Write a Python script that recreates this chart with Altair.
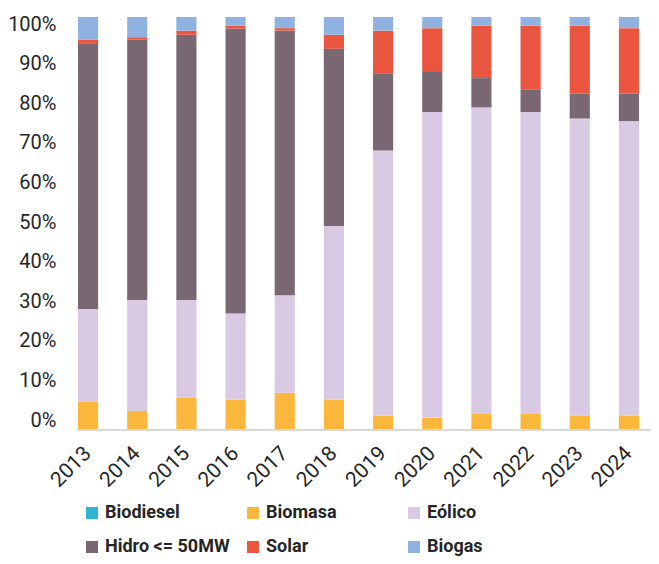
import altair as alt
import pandas as pd

years = [str(y) for y in range(2013, 2025)]
series = ["Biodiesel", "Biomasa", "Eólico", "Hidro <= 50MW", "Solar", "Biogas"]
colors = ["#2EB4CE", "#FAB73C", "#D8CAE3", "#796872", "#E9553E", "#90B2E0"]

biodiesel = [0, 0, 0, 0, 0, 0, 0, 0, 0, 0, 0, 0]
biomasa = [6.9, 4.6, 7.8, 7.3, 9.0, 7.3, 3.5, 3.0, 4.0, 4.0, 3.5, 3.5]
eolico = [22.4, 26.9, 23.7, 20.9, 23.6, 42.1, 64.2, 74.0, 74.1, 73.0, 71.9, 71.3]
hidro = [64.2, 63.0, 64.2, 69.0, 64.1, 42.9, 18.7, 9.9, 7.1, 5.5, 6.0, 6.6]
solar = [1.0, 0.6, 1.0, 0.7, 0.6, 3.4, 10.3, 10.4, 12.7, 15.4, 16.5, 15.9]
biogas = [5.5, 4.9, 3.3, 2.1, 2.7, 4.3, 3.3, 2.7, 2.1, 2.1, 2.1, 2.7]

values = [biodiesel, biomasa, eolico, hidro, solar, biogas]
rows = []
for si, (name, vals) in enumerate(zip(series, values)):
    for y, v in zip(years, vals):
        rows.append({"year": y, "serie": name, "value": v, "ord": si})
df = pd.DataFrame(rows)

FONT = "Roboto"

bars = alt.Chart(df).mark_bar().encode(
    x=alt.X("year:N", sort=years,
            scale=alt.Scale(paddingInner=0.59, paddingOuter=0.02),
            axis=alt.Axis(title=None, labelAngle=-45, labelAlign="right",
                          labelBaseline="middle", labelPadding=20,
                          labelFontSize=21, labelFont=FONT, labelColor="#262626",
                          domain=False, ticks=False)),
    y=alt.Y("value:Q", stack="normalize",
            scale=alt.Scale(domain=[0, 1]),
            axis=alt.Axis(title=None, format="%", values=[i / 10 for i in range(11)],
                          labelFontSize=20, labelFont=FONT, labelColor="#262626",
                          labelOffset=alt.ExprRef("(datum.value - 0.5) * 17 - 1.5"),
                          labelPadding=21, domain=False, ticks=False, grid=False)),
    color=alt.Color("serie:N", sort=series,
                    scale=alt.Scale(domain=series, range=colors),
                    legend=alt.Legend(title=None, orient="none", legendX=6, legendY=487,
                                      direction="horizontal",
                                      columns=3, gridAlign="all", columnPadding=14,
                                      rowPadding=16, symbolType="square", symbolSize=144,
                                      symbolStrokeWidth=0, labelOffset=4,
                                      labelFont=FONT, labelFontWeight="bold",
                                      labelFontSize=18, labelColor="#262626",
                                      padding=0, labelLimit=300)),
    order=alt.Order("ord:Q"),
)

base_line = alt.Chart(pd.DataFrame({"a": [0]})).mark_rule(
    color="#D9D9D9", strokeWidth=2
).encode(x=alt.value(0), x2=alt.value(574), y=alt.value(413))

chart = alt.layer(bars, base_line).properties(
    width=563, height=413,
    autosize=alt.AutoSizeParams(type="none"),
    padding={"left": 69, "top": 9, "right": 11, "bottom": 126},
).configure_view(stroke=None)

chart.save("out.html", embed_options={"renderer": "svg", "actions": False})
